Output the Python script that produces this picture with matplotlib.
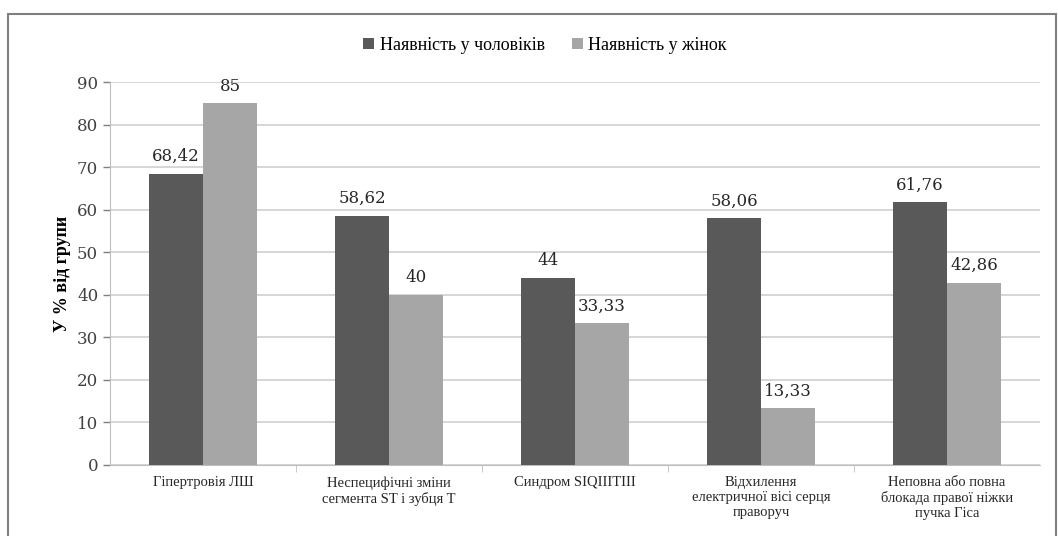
import numpy as np
import matplotlib.pyplot as plt
from matplotlib.patches import Rectangle

categories = ['Гіпертровія ЛШ', 'Неспецифічні зміни\nсегмента ST і зубця T', 'Синдром SIQIIITIII',
              'Відхилення\nелектричної вісі серця\nправоруч', 'Неповна або повна\nблокада правої ніжки\nпучка Гіса']
men = [68.42, 58.62, 44, 58.06, 61.76]
women = [85, 40, 33.33, 13.33, 42.86]
men_labels = ['68,42', '58,62', '44', '58,06', '61,76']
women_labels = ['85', '40', '33,33', '13,33', '42,86']

plt.rcParams['font.family'] = ['Liberation Serif', 'DejaVu Serif']

fig = plt.figure(figsize=(10.58, 5.36), dpi=100)
ax = fig.add_axes([0.104, 0.1325, 0.879, 0.7145])
fig.patches.append(Rectangle((0.008, -0.01), 0.99, 0.984, transform=fig.transFigure,
                             fill=False, edgecolor='#7f7f7f', linewidth=1.5))

x = np.arange(len(categories))
w = 0.29
b1 = ax.bar(x - w / 2, men, w, color='#595959', label='Наявність у чоловіків', zorder=3)
b2 = ax.bar(x + w / 2, women, w, color='#a6a6a6', label='Наявність у жінок', zorder=3)
for bars, labs in ((b1, men_labels), (b2, women_labels)):
    for r, t in zip(bars, labs):
        ax.text(r.get_x() + r.get_width() / 2, r.get_height() + 2, t, ha='center', va='bottom',
                fontsize=12, color='#262626', family='DejaVu Serif')

ax.set_xlim(-0.5, len(categories) - 0.5)
ax.set_ylim(0, 90)
ax.set_yticks(range(0, 91, 10))
ax.tick_params(axis='y', labelsize=12, colors='#7f7f7f', labelcolor='#404040', length=5, width=1)
for lab in ax.get_yticklabels():
    lab.set_family('DejaVu Serif')
ax.set_xticks(x)
ax.set_xticklabels(categories, fontsize=10.5, color='#262626')
ax.tick_params(axis='x', length=0, pad=8)
ax.set_xticks(np.arange(0.5, len(categories) - 1, 1), minor=True)
ax.tick_params(axis='x', which='minor', length=5, color='#bfbfbf')
ax.grid(axis='y', color='#d0d0d0', linewidth=1.2, zorder=0)
for s in ('top', 'right'):
    ax.spines[s].set_visible(False)
ax.spines['left'].set_color('#bfbfbf')
ax.spines['bottom'].set_color('#bfbfbf')
ax.set_ylabel('У % від групи', fontsize=13, fontweight='bold', labelpad=4)

fig.legend(loc='center', bbox_to_anchor=(0.515, 0.915), ncol=2, frameon=False, fontsize=13,
           handlelength=0.6, handleheight=0.6, handletextpad=0.3, columnspacing=1.5)

plt.savefig('out.png', dpi=100)
